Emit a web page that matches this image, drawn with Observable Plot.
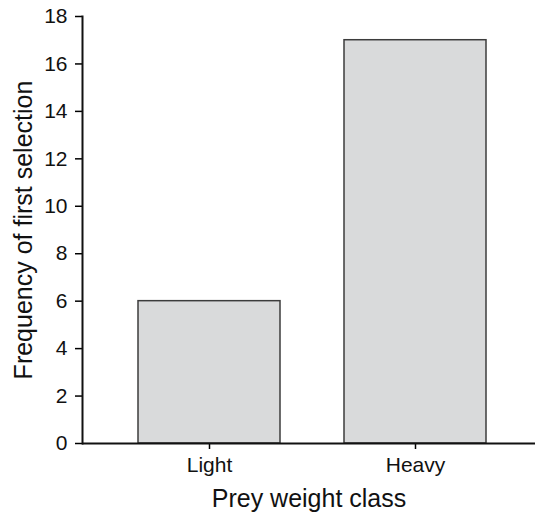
<!DOCTYPE html>
<html><head><meta charset="utf-8">
<script src="https://cdn.jsdelivr.net/npm/d3@7"></script>
<script src="https://cdn.jsdelivr.net/npm/@observablehq/plot@0.6"></script>
<style>body{margin:0;background:#fff} svg{display:block}</style>
</head><body><div id="chart"></div>
<script>
const categories = ["Light", "Heavy"];
const frequencies = [6, 17];
const yTicks = [0, 2, 4, 6, 8, 10, 12, 14, 16, 18];
const yTitle = "Frequency of first selection";
const xTitle = "Prey weight class";

const data = categories.map((c, i) => ({cls: c, freq: frequencies[i]}));

const plot = Plot.plot({
  width: 535, height: 513,
  marginLeft: 82, marginRight: 0, marginTop: 16, marginBottom: 70,
  style: {fontFamily: "'Liberation Sans', Arial, sans-serif", fontSize: "21px", background: "#fff", color: "#000"},
  x: {domain: categories, range: [106, 518], paddingInner: 0.31, paddingOuter: 0.155, align: 0.5},
  y: {domain: [0, 18]},
  marks: [
    Plot.barY(data, {x: "cls", y: "freq", fill: "#d9dadb", stroke: "#3c3c3c", strokeWidth: 1.5}),
    Plot.axisY({ticks: yTicks, tickSize: 7, tickPadding: 8, label: null, strokeWidth: 1.5, fontSize: 21, fill: "#111"}),
    Plot.axisX({tickSize: 6, tickPadding: 8, label: null, strokeWidth: 1.5, fontSize: 21, fill: "#111"}),
    Plot.ruleY([0], {strokeWidth: 2, stroke: "#111"}),
    Plot.frame({anchor: "left", strokeWidth: 2, stroke: "#111"}),
    Plot.text([yTitle], {text: d => d, frameAnchor: "left", textAnchor: "middle", rotate: -90, dx: -59, fontSize: 25, fill: "#111"}),
    Plot.text([xTitle], {text: d => d, frameAnchor: "bottom", textAnchor: "middle", lineAnchor: "bottom", dy: 63, fontSize: 25, fill: "#111"})
  ]
});
document.getElementById("chart").appendChild(plot);
</script>
</body></html>
